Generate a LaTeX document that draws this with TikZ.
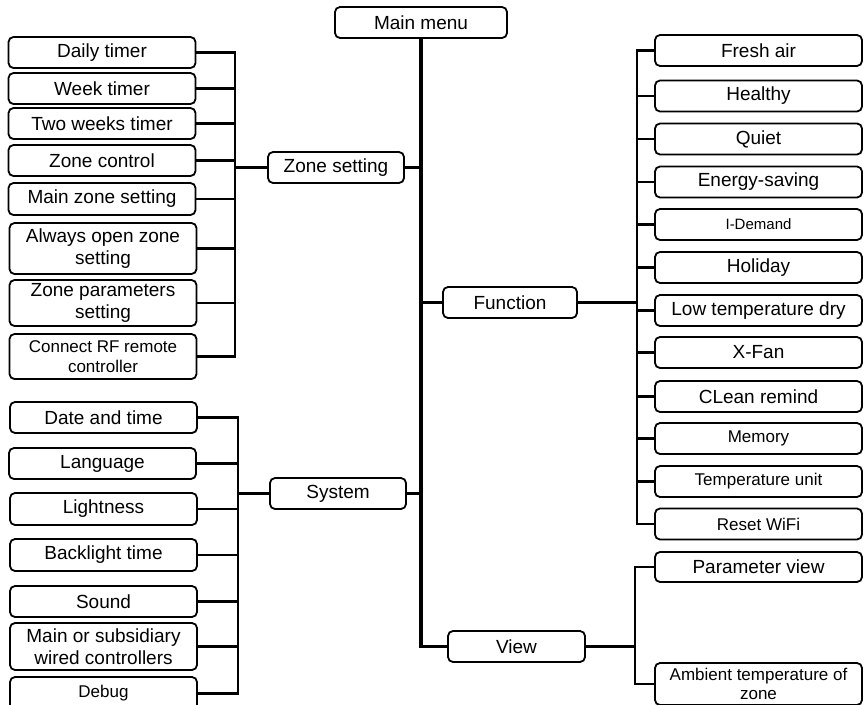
\documentclass[tikz,border=0pt]{standalone}
\usepackage{fontspec}
\setmainfont{Liberation Sans}
\usetikzlibrary{positioning}
\begin{document}
\begin{tikzpicture}[x=1pt,y=-1pt,
  item/.style={draw,rounded corners=5pt,line width=1.8pt,inner sep=0pt,align=center,
    font=\fontsize{19}{22.5}\selectfont,minimum height=31pt},
  leftitem/.style={item,minimum width=187pt},
  miditem/.style={item,minimum width=136pt},
  rightitem/.style={item,minimum width=207pt},
  smallfont/.style={font=\fontsize{17}{20}\selectfont},
  link/.style={line width=2.2pt},
  trunk/.style={line width=3.5pt}]
\useasboundingbox (0,0) rectangle (864,704);

	 \node at (421,22.5) [item,minimum width=172pt] (main) {Main menu};

	 \node at (336,167.5) [miditem] (zone) {Zone setting};
	 \node at (338,493.5) [miditem] (sys) {System};
	 \node at (510,302.5) [miditem,minimum width=134pt] (func) {Function};
	 \node at (516.5,646.5) [miditem,minimum width=137pt] (view) {View};

	 \node at (102,52.5) [leftitem] (daily) {Daily timer};
	 \node at (102,88.5) [leftitem] (week) {Week timer};
	 \node at (102,123.5) [leftitem] (twoweek) {Two weeks timer};
	 \node at (102,160.5) [leftitem] (zctrl) {Zone control};
	 \node at (102,199) [leftitem,minimum height=32pt] (mainzone) {Main zone setting};
	 \node at (103,248.5) [leftitem,minimum height=51pt] (always) {Always open zone\\setting};
	 \node at (103,303) [leftitem,minimum height=46pt] (zparam) {Zone parameters\\setting};
	 \node at (103,356.5) [leftitem,smallfont,minimum height=45pt] (connect) {Connect RF remote\\controller};

	 \node at (103.5,417.5) [leftitem] (date) {Date and time};
	 \node at (102.5,463.5) [leftitem] (lang) {Language};
	 \node at (103.5,509) [leftitem,minimum height=32pt] (light) {Lightness};
	 \node at (103.5,555) [leftitem,minimum height=32pt] (back) {Backlight time};
	 \node at (103.5,601.5) [leftitem] (sound) {Sound};
	 \node at (103.5,646.5) [leftitem,minimum height=47pt] (mainsub) {Main or subsidiary\\wired controllers};
	 \node at (103.5,693.5) [leftitem,smallfont,minimum height=33pt] (debug) {Debug};

	 \node at (758.5,50.5) [rightitem] (fresh) {Fresh air};
	 \node at (758.5,96) [rightitem] (healthy) {Healthy};
	 \node at (758.5,139) [rightitem] (quiet) {Quiet};
	 \node at (758.5,182) [rightitem] (energy) {Energy-saving};
	 \node at (758.5,224.5) [rightitem,font=\fontsize{15}{18}\selectfont] (idemand) {I-Demand};
	 \node at (758.5,267.5) [rightitem] (holiday) {Holiday};
	 \node at (758.5,310.5) [rightitem] (lowtemp) {Low temperature dry};
	 \node at (758.5,352.5) [rightitem] (xfan) {X-Fan};
	 \node at (758.5,396.5) [rightitem] (clean) {CLean remind};
	 \node at (758.5,438.5) [rightitem,smallfont] (memory) {Memory};
	 \node at (758.5,481.5) [rightitem,smallfont] (tempunit) {Temperature unit};
	 \node at (758.5,524) [rightitem,smallfont] (reset) {Reset WiFi};

	 \node at (758.5,567) [rightitem,minimum height=30pt] (param) {Parameter view};
	 \node at (758.5,684) [rightitem,font=\fontsize{17}{19}\selectfont,minimum height=42pt] (ambient) {Ambient temperature of\\zone};

	 \coordinate (zbus) at (235,167.5);
	 \coordinate (sbus) at (238,493.5);
	 \coordinate (fbus) at (637,302.5);
	 \coordinate (vbus) at (635,646.5);

	 \draw[trunk] (main) |- (view);
	 \draw[trunk] (zone) -- (zone -| main);
	 \draw[trunk] (sys) -- (sys -| main);
	 \draw[trunk] (func) -- (func -| main);

	 \draw[link] (zone) -- (zbus);
	 \draw[link] (daily) -| (zbus);
	 \draw[link] (week) -| (zbus);
	 \draw[link] (twoweek) -| (zbus);
	 \draw[link] (zctrl) -| (zbus);
	 \draw[link] (mainzone) -| (zbus);
	 \draw[link] (always) -| (zbus);
	 \draw[link] (zparam) -| (zbus);
	 \draw[link] (connect) -| (zbus);

	 \draw[link] (sys) -- (sbus);
	 \draw[link] (date) -| (sbus);
	 \draw[link] (lang) -| (sbus);
	 \draw[link] (light) -| (sbus);
	 \draw[link] (back) -| (sbus);
	 \draw[link] (sound) -| (sbus);
	 \draw[link] (mainsub) -| (sbus);
	 \draw[link] (debug) -| (sbus);

	 \draw[link] (func) -- (fbus);
	 \draw[link] (fresh) -| (fbus);
	 \draw[link] (healthy) -| (fbus);
	 \draw[link] (quiet) -| (fbus);
	 \draw[link] (energy) -| (fbus);
	 \draw[link] (idemand) -| (fbus);
	 \draw[link] (holiday) -| (fbus);
	 \draw[link] (lowtemp) -| (fbus);
	 \draw[link] (xfan) -| (fbus);
	 \draw[link] (clean) -| (fbus);
	 \draw[link] (memory) -| (fbus);
	 \draw[link] (tempunit) -| (fbus);
	 \draw[link] (reset) -| (fbus);

	 \draw[link] (view) -- (vbus);
	 \draw[link] (param) -| (vbus);
	 \draw[link] (ambient) -| (vbus);

\end{tikzpicture}
\end{document}
